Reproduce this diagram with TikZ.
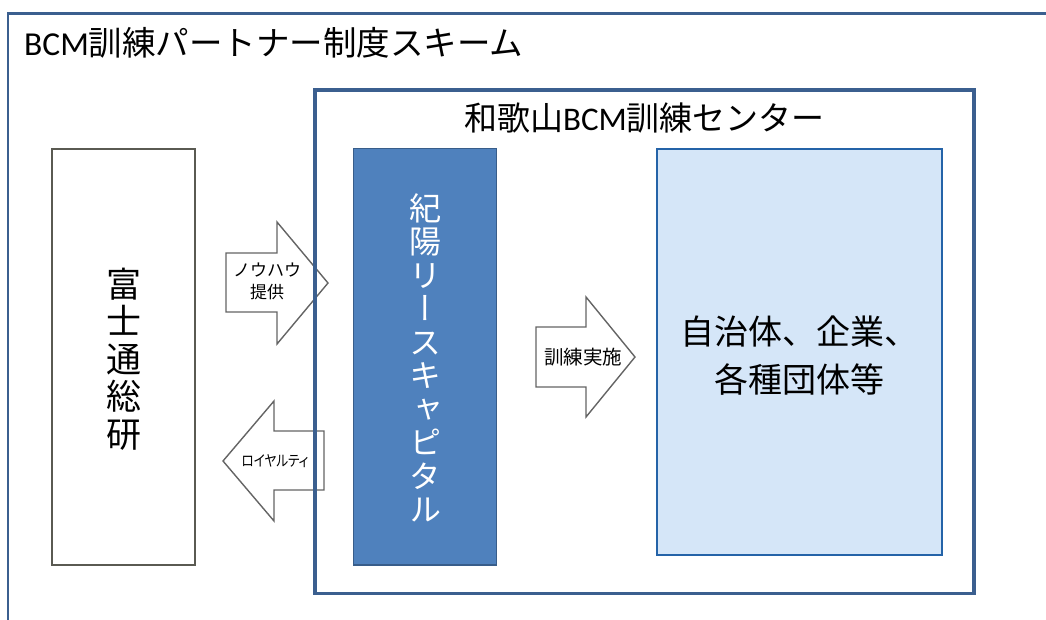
\documentclass[tikz,border=0pt]{standalone}
\usepackage{fontspec}
\setmainfont{Noto Sans CJK JP}
\newfontfamily\jpn[RawFeature=+palt, FakeStretch=0.84]{Noto Sans CJK JP}
\newfontfamily\jpv[RawFeature=+vert]{Noto Sans CJK JP}
\newfontfamily\latf{Carlito}
\definecolor{frameblue}{HTML}{3B5F8F}
\definecolor{kiyofill}{HTML}{4F81BD}
\definecolor{kiyoline}{HTML}{385D8A}
\definecolor{custfill}{HTML}{D5E6F8}
\definecolor{custline}{HTML}{2463A8}
\definecolor{boxgray}{HTML}{5A5A52}
\definecolor{arrgray}{HTML}{646464}
\tikzset{
  frameline/.style={draw=frameblue},
  blockarrow/.style={draw=arrgray, fill=white, line width=1.4pt, line join=miter},
  smalllabel/.style={inner sep=0pt, align=center, font=\fontsize{17}{22}\selectfont},
  vtext/.style={inner sep=0pt, align=center},
}
\begin{document}
\begin{tikzpicture}[x=1pt,y=-1pt]
\useasboundingbox (0,0) rectangle (1046,619);
% outer frame (clipped at right and bottom)
\begin{scope}
\clip (0,0) rectangle (1046,619);
\draw[frameline, line width=2.2pt] (8,640) -- (8,13.5) -- (1060,13.5);
\end{scope}
\node[anchor=west, inner sep=0pt, font=\fontsize{33.5}{35}\selectfont] (title) at (24,43) {{\latf BCM}訓練パートナー制度スキーム};

% left box
\draw[draw=boxgray, fill=white, line width=2pt] (52,149) rectangle (195,565);
\node[vtext, font=\fontsize{35}{37.5}\selectfont] (fuji) at (123.5,359) {富\\士\\通\\総\\研};

% arrows (drawn before inner frame)
\draw[blockarrow] (226,253) -- (277,253) -- (277,222) -- (328,283) -- (277,344) -- (277,312) -- (226,312) -- cycle;
\node[smalllabel] (knowhow) at (267,281) {ノウハウ\\提供};
\draw[blockarrow] (324,431) -- (274,431) -- (274,401) -- (223,461) -- (274,521) -- (274,490) -- (324,490) -- cycle;
\node[smalllabel, font=\jpn\fontsize{15}{18}\selectfont] (royalty) at (275,461) {ロイヤルティ};

% inner frame
\draw[frameline, line width=3.6pt] (315,90) rectangle (974,593.5);
\node[inner sep=0pt, font=\fontsize{33}{35}\selectfont] (center) at (644.5,118) {和歌山{\latf BCM}訓練センター};

% Kiyo box
\draw[draw=kiyoline, fill=kiyofill, line width=1.5pt] (353.5,148.5) rectangle (496.5,565);
\node[vtext, text=white, font=\jpv\fontsize{32}{33.5}\selectfont] (kiyo) at (425,358) {紀\\陽\\リ\\ー\\ス\\キ\\ャ\\ピ\\タ\\ル};

% training arrow
\draw[blockarrow] (536,327) -- (586,327) -- (586,297) -- (635,357) -- (586,417) -- (586,387) -- (536,387) -- cycle;
\node[smalllabel, font=\fontsize{19.5}{21}\selectfont] (train) at (583,357) {訓練実施};

% customer box
\draw[draw=custline, fill=custfill, line width=2pt] (657,148.5) rectangle (941.5,555);
\node[inner sep=0pt, align=center, font=\fontsize{34}{48}\selectfont] (cust) at (799,356) {自治体、企業、\\各種団体等};
\end{tikzpicture}
\end{document}
